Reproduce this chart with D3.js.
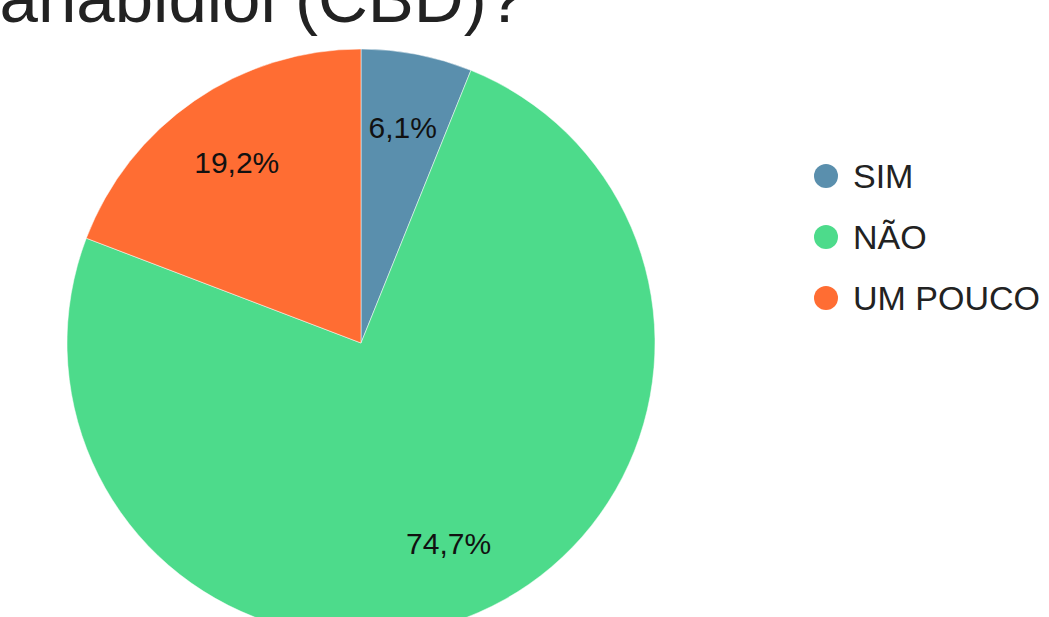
<!doctype html>
<html lang="pt">
<head>
<meta charset="utf-8">
<style>
  body { margin: 0; background: #fff; }
  text { font-family: Arial, "Liberation Sans", Helvetica, sans-serif; fill: #222; }
</style>
</head>
<body>
<script src="https://d3js.org/d3.v7.min.js"></script>
<div id="chart"></div>
<script>
  // dados
  var categories = ["SIM", "NÃO", "UM POUCO"];
  var values = [6.1, 74.7, 19.2];
  var labels = ["6,1%", "74,7%", "19,2%"];
  var colors = ["#5a8fad", "#4ddb8b", "#ff6d33"];
  var title = "Você já ouviu falar sobre o canabidiol (CBD)?";

  var width = 1049, height = 617;
  var cx = 361, cy = 343, radius = 294;

  var svg = d3.select("#chart").append("svg")
      .attr("width", width)
      .attr("height", height);

  // título, cortado à esquerda como no original
  svg.append("text")
     .attr("x", 525)
     .attr("y", 22)
     .attr("text-anchor", "end")
     .style("font-size", "69px")
     .text(title);

  var pie = d3.pie().sort(null).value(function(d) { return d; });
  var arc = d3.arc().innerRadius(0).outerRadius(radius);
  var labelArc = d3.arc().innerRadius(radius * 0.745).outerRadius(radius * 0.745);

  var g = svg.append("g").attr("transform", "translate(" + cx + "," + cy + ")");
  var slices = g.selectAll("g.slice")
      .data(pie(values))
      .enter()
      .append("g")
      .attr("class", "slice");

  slices.append("path")
        .attr("d", arc)
        .attr("fill", function(d, i) { return colors[i]; })
        .attr("stroke", "#fff")
        .attr("stroke-width", 0.5);

  slices.append("text")
        .attr("transform", function(d) { return "translate(" + labelArc.centroid(d) + ")"; })
        .attr("text-anchor", "middle")
        .attr("dy", "0.35em")
        .style("font-size", "30px")
        .style("fill", "#111")
        .text(function(d, i) { return labels[i]; });

  // legenda
  var legend = svg.append("g").attr("transform", "translate(826,176)");
  var item = legend.selectAll("g")
      .data(categories)
      .enter()
      .append("g")
      .attr("transform", function(d, i) { return "translate(0," + i * 61 + ")"; });
  item.append("circle")
      .attr("r", 12)
      .attr("fill", function(d, i) { return colors[i]; });
  item.append("text")
      .attr("x", 27)
      .attr("dy", "0.36em")
      .style("font-size", "34px")
      .text(function(d) { return d; });
</script>
</body>
</html>
